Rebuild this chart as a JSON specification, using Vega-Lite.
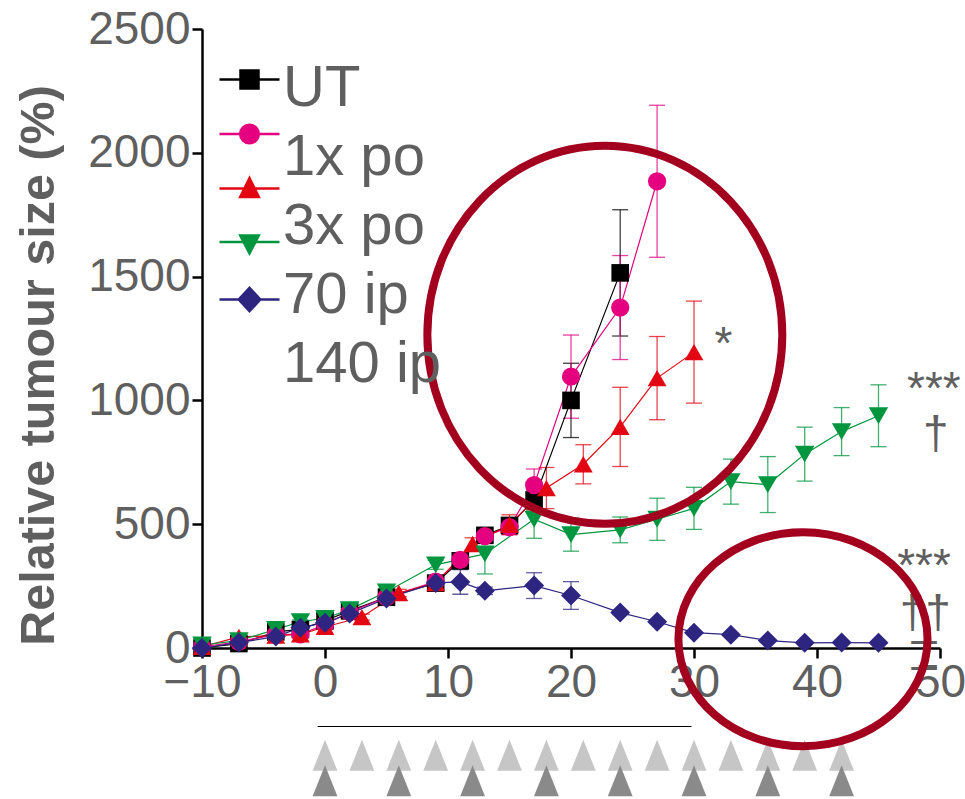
{
  "$schema": "https://vega.github.io/schema/vega-lite/v6.json",
  "width": 738,
  "height": 619,
  "autosize": {"type": "none"},
  "padding": {"left": 202, "top": 29, "right": 25, "bottom": 151},
  "background": "white",
  "config": {
    "view": {"stroke": null},
    "axis": {
      "grid": false,
      "domainColor": "#000000",
      "domainWidth": 2.5,
      "tickColor": "#000000",
      "tickWidth": 2.5,
      "tickSize": 10,
      "labelFont": "Liberation Sans",
      "labelFontSize": 46,
      "labelColor": "#5f5f5f",
      "labelPadding": 2,
      "titleFont": "Liberation Sans",
      "titleColor": "#5f5f5f"
    }
  },
  "datasets": {
    "main": [
      {"series": "UT", "day": -10, "value": 0, "sem": 0},
      {"series": "UT", "day": -7, "value": 18, "sem": 5},
      {"series": "UT", "day": -4, "value": 65, "sem": 8},
      {"series": "UT", "day": -2, "value": 75, "sem": 8},
      {"series": "UT", "day": 0, "value": 110, "sem": 10},
      {"series": "UT", "day": 2, "value": 150, "sem": 12},
      {"series": "UT", "day": 5, "value": 205, "sem": 15},
      {"series": "UT", "day": 9, "value": 262, "sem": 18},
      {"series": "UT", "day": 11, "value": 352, "sem": 20},
      {"series": "UT", "day": 13, "value": 455, "sem": 30},
      {"series": "UT", "day": 15, "value": 495, "sem": 30},
      {"series": "UT", "day": 17, "value": 598, "sem": 40},
      {"series": "UT", "day": 20, "value": 1000, "sem": 150},
      {"series": "UT", "day": 24, "value": 1515, "sem": 255},
      {"series": "1x po", "day": -10, "value": 5, "sem": 0},
      {"series": "1x po", "day": -7, "value": 25, "sem": 5},
      {"series": "1x po", "day": -4, "value": 55, "sem": 8},
      {"series": "1x po", "day": -2, "value": 55, "sem": 8},
      {"series": "1x po", "day": 0, "value": 95, "sem": 10},
      {"series": "1x po", "day": 2, "value": 145, "sem": 12},
      {"series": "1x po", "day": 5, "value": 205, "sem": 15},
      {"series": "1x po", "day": 9, "value": 268, "sem": 18},
      {"series": "1x po", "day": 11, "value": 356, "sem": 20},
      {"series": "1x po", "day": 13, "value": 452, "sem": 25},
      {"series": "1x po", "day": 15, "value": 488, "sem": 30},
      {"series": "1x po", "day": 17, "value": 658, "sem": 65},
      {"series": "1x po", "day": 20, "value": 1096, "sem": 168},
      {"series": "1x po", "day": 24, "value": 1375, "sem": 210},
      {"series": "1x po", "day": 27, "value": 1885, "sem": 307},
      {"series": "3x po", "day": -10, "value": 5, "sem": 0},
      {"series": "3x po", "day": -7, "value": 45, "sem": 5},
      {"series": "3x po", "day": -4, "value": 50, "sem": 8},
      {"series": "3x po", "day": -2, "value": 55, "sem": 8},
      {"series": "3x po", "day": 0, "value": 85, "sem": 10},
      {"series": "3x po", "day": 3, "value": 125, "sem": 12},
      {"series": "3x po", "day": 6, "value": 222, "sem": 15},
      {"series": "3x po", "day": 9, "value": 262, "sem": 18},
      {"series": "3x po", "day": 12, "value": 420, "sem": 25},
      {"series": "3x po", "day": 15, "value": 498, "sem": 40},
      {"series": "3x po", "day": 18, "value": 646, "sem": 83},
      {"series": "3x po", "day": 21, "value": 742, "sem": 79},
      {"series": "3x po", "day": 24, "value": 893, "sem": 160},
      {"series": "3x po", "day": 27, "value": 1090, "sem": 168},
      {"series": "3x po", "day": 30, "value": 1195, "sem": 206},
      {"series": "70 ip", "day": -10, "value": 12, "sem": 0},
      {"series": "70 ip", "day": -7, "value": 30, "sem": 5},
      {"series": "70 ip", "day": -4, "value": 75, "sem": 8},
      {"series": "70 ip", "day": -2, "value": 106, "sem": 8},
      {"series": "70 ip", "day": 0, "value": 120, "sem": 10},
      {"series": "70 ip", "day": 2, "value": 155, "sem": 12},
      {"series": "70 ip", "day": 5, "value": 227, "sem": 15},
      {"series": "70 ip", "day": 9, "value": 336, "sem": 18},
      {"series": "70 ip", "day": 13, "value": 380, "sem": 81},
      {"series": "70 ip", "day": 17, "value": 520, "sem": 77},
      {"series": "70 ip", "day": 20, "value": 458, "sem": 67},
      {"series": "70 ip", "day": 24, "value": 477, "sem": 52},
      {"series": "70 ip", "day": 27, "value": 520, "sem": 85},
      {"series": "70 ip", "day": 30, "value": 564, "sem": 85},
      {"series": "70 ip", "day": 33, "value": 672, "sem": 91},
      {"series": "70 ip", "day": 36, "value": 660, "sem": 113},
      {"series": "70 ip", "day": 39, "value": 783, "sem": 109},
      {"series": "70 ip", "day": 42, "value": 874, "sem": 97},
      {"series": "70 ip", "day": 45, "value": 938, "sem": 125},
      {"series": "140 ip", "day": -10, "value": 0, "sem": 0},
      {"series": "140 ip", "day": -7, "value": 22, "sem": 4},
      {"series": "140 ip", "day": -4, "value": 46, "sem": 5},
      {"series": "140 ip", "day": -2, "value": 82, "sem": 6},
      {"series": "140 ip", "day": 0, "value": 102, "sem": 8},
      {"series": "140 ip", "day": 2, "value": 139, "sem": 8},
      {"series": "140 ip", "day": 5, "value": 200, "sem": 10},
      {"series": "140 ip", "day": 9, "value": 263, "sem": 12},
      {"series": "140 ip", "day": 11, "value": 267, "sem": 50},
      {"series": "140 ip", "day": 13, "value": 231, "sem": 15},
      {"series": "140 ip", "day": 17, "value": 252, "sem": 52},
      {"series": "140 ip", "day": 20, "value": 212, "sem": 56},
      {"series": "140 ip", "day": 24, "value": 143, "sem": 8},
      {"series": "140 ip", "day": 27, "value": 106, "sem": 6},
      {"series": "140 ip", "day": 30, "value": 62, "sem": 5},
      {"series": "140 ip", "day": 33, "value": 54, "sem": 5},
      {"series": "140 ip", "day": 36, "value": 30, "sem": 4},
      {"series": "140 ip", "day": 39, "value": 21, "sem": 3},
      {"series": "140 ip", "day": 42, "value": 22, "sem": 3},
      {"series": "140 ip", "day": 45, "value": 21, "sem": 3}
    ],
    "dosing": [
      {"dose": "light", "day": 0, "value": -433},
      {"dose": "light", "day": 3, "value": -433},
      {"dose": "light", "day": 6, "value": -433},
      {"dose": "light", "day": 9, "value": -433},
      {"dose": "light", "day": 12, "value": -433},
      {"dose": "light", "day": 15, "value": -433},
      {"dose": "light", "day": 18, "value": -433},
      {"dose": "light", "day": 21, "value": -433},
      {"dose": "light", "day": 24, "value": -433},
      {"dose": "light", "day": 27, "value": -433},
      {"dose": "light", "day": 30, "value": -433},
      {"dose": "light", "day": 33, "value": -433},
      {"dose": "light", "day": 36, "value": -433},
      {"dose": "light", "day": 39, "value": -433},
      {"dose": "light", "day": 42, "value": -433},
      {"dose": "dark", "day": 0, "value": -536},
      {"dose": "dark", "day": 6, "value": -536},
      {"dose": "dark", "day": 12, "value": -536},
      {"dose": "dark", "day": 18, "value": -536},
      {"dose": "dark", "day": 24, "value": -536},
      {"dose": "dark", "day": 30, "value": -536},
      {"dose": "dark", "day": 36, "value": -536},
      {"dose": "dark", "day": 42, "value": -536}
    ],
    "bar": [
      {"day": -0.6, "dayEnd": 29.8, "value": -317}
    ],
    "notes": [
      {"day": 32.4, "value": 1169, "label": "*"},
      {"day": 49.5, "value": 987, "label": "***"},
      {"day": 49.66, "value": 805, "label": "†"},
      {"day": 48.7, "value": 272, "label": "***"},
      {"day": 48.8, "value": 82, "label": "††"},
      {"day": 48.7, "value": -25, "label": "–"},
      {"day": 48.7, "value": -130, "label": "–"}
    ],
    "rings": [
      {"ring": "big", "day": 22.75, "value": 1265},
      {"ring": "small", "day": 38.86, "value": 35.5}
    ]
  },
  "encoding": {
    "x": {
      "field": "day",
      "type": "quantitative",
      "scale": {"domain": [-10, 50], "nice": false, "zero": false},
      "axis": {"values": [-10, 0, 10, 20, 30, 40, 50], "title": null, "labelFlush": false, "labelOverlap": false, "labelBound": false}
    },
    "y": {
      "field": "value",
      "type": "quantitative",
      "scale": {"domain": [0, 2500], "nice": false, "zero": false},
      "axis": {
        "values": [0, 500, 1000, 1500, 2000, 2500],
        "format": "d",
        "title": "Relative tumour size (%)",
        "titleFontSize": 48.5,
        "titleFontWeight": "bold",
        "titlePadding": 24,
        "titleY": 336,
        "labelOverlap": false,
        "labelFlush": false
      }
    }
  },
  "layer": [
    {
      "data": {"name": "main"},
      "mark": {"type": "errorbar", "ticks": true, "size": 16, "thickness": 1.3, "opacity": 0.75},
      "encoding": {
        "yError": {"field": "sem"},
        "color": {"field": "series", "type": "nominal", "scale": {"domain": ["UT", "1x po", "3x po", "70 ip", "140 ip"], "range": ["#000000", "#e4007f", "#e30613", "#00963f", "#2e2580"]}, "legend": null}
      }
    },
    {
      "data": {"name": "main"},
      "mark": {"type": "line", "strokeWidth": 1.2},
      "encoding": {
        "color": {"field": "series", "type": "nominal", "scale": {"domain": ["UT", "1x po", "3x po", "70 ip", "140 ip"], "range": ["#000000", "#e4007f", "#e30613", "#00963f", "#2e2580"]}, "legend": null}
      }
    },
    {
      "data": {"name": "main"},
      "mark": {"type": "point", "filled": true, "opacity": 1, "strokeWidth": 0},
      "encoding": {
        "color": {"field": "series", "type": "nominal", "scale": {"domain": ["UT", "1x po", "3x po", "70 ip", "140 ip"], "range": ["#000000", "#e4007f", "#e30613", "#00963f", "#2e2580"]}, "legend": null},
        "shape": {"field": "series", "type": "nominal", "scale": {"domain": ["UT", "1x po", "3x po", "70 ip", "140 ip"], "range": ["square", "circle", "triangle-up", "triangle-down", "diamond"]}, "legend": null},
        "size": {"field": "series", "type": "ordinal", "scale": {"domain": ["UT", "1x po", "3x po", "70 ip", "140 ip"], "range": [310, 400, 430, 430, 480]}, "legend": null}
      }
    },
    {
      "data": {"name": "bar"},
      "mark": {"type": "rule", "color": "#000000", "strokeWidth": 1.2},
      "encoding": {"x2": {"field": "dayEnd"}}
    },
    {
      "data": {"name": "dosing"},
      "transform": [{"filter": "datum.dose === 'light'"}],
      "mark": {"type": "point", "shape": "M0,-1L0.8,1L-0.8,1Z", "size": 961, "filled": true, "color": "#c6c6c6", "opacity": 1, "strokeWidth": 0}
    },
    {
      "data": {"name": "dosing"},
      "transform": [{"filter": "datum.dose === 'dark'"}],
      "mark": {"type": "point", "shape": "M0,-1L0.8,1L-0.8,1Z", "size": 961, "filled": true, "color": "#8a8a8a", "opacity": 1, "strokeWidth": 0}
    },
    {
      "data": {"name": "notes"},
      "mark": {"type": "text", "font": "Liberation Sans", "fontSize": 46, "color": "#5f5f5f", "baseline": "alphabetic", "align": "center"},
      "encoding": {"text": {"field": "label"}}
    },
    {
      "data": {"name": "rings"},
      "transform": [{"filter": "datum.ring === 'big'"}],
      "mark": {"type": "point", "shape": "M-0.939,0A0.939,1,0,1,0,0.939,0A0.939,1,0,1,0,-0.939,0Z", "size": 142884, "filled": false, "stroke": "#a3001f", "strokeWidth": 8, "opacity": 1}
    },
    {
      "data": {"name": "rings"},
      "transform": [{"filter": "datum.ring === 'small'"}],
      "mark": {"type": "point", "shape": "M-1.164,0A1.164,1,0,1,0,1.164,0A1.164,1,0,1,0,-1.164,0Z", "size": 45796, "filled": false, "stroke": "#a3001f", "strokeWidth": 8, "opacity": 1}
    },
    {
      "data": {"values": [{"lg": "s1"}]},
      "transform": [{"filter": "false"}],
      "mark": {"type": "point", "filled": true, "opacity": 1, "size": 900},
      "encoding": {
        "shape": {"field": "lg", "type": "nominal", "scale": {"domain": ["s1", "s2", "s3", "s4", "s5"], "range": [
          "M-2,0H2M-0.6,-0.6H0.6V0.6H-0.6Z",
          "M-2,0H2M0.62,0A0.62,0.62,0,1,1,-0.62,0A0.62,0.62,0,1,1,0.62,0Z",
          "M-2,0H2M0,-0.7L0.62,0.56H-0.62Z",
          "M-2,0H2M-0.62,-0.44H0.62L0,0.76Z",
          "M-2,0H2M0,-0.78L0.72,0L0,0.78L-0.72,0Z"
        ]}, "legend": {"orient": "none", "legendX": 31, "legendY": 34, "title": null, "labelExpr": "''", "labelFontSize": 1, "symbolSize": 900, "symbolStrokeWidth": 2.5, "rowPadding": 23.5, "padding": 0, "symbolOpacity": 1}},
        "fill": {"field": "lg", "type": "nominal", "scale": {"domain": ["s1", "s2", "s3", "s4", "s5"], "range": ["#000000", "#e4007f", "#e30613", "#00963f", "#2e2580"]}, "legend": {"orient": "none", "legendX": 31, "legendY": 34, "title": null, "labelExpr": "''", "labelFontSize": 1, "symbolSize": 900, "symbolStrokeWidth": 2.5, "rowPadding": 23.5, "padding": 0, "symbolOpacity": 1}},
        "stroke": {"field": "lg", "type": "nominal", "scale": {"domain": ["s1", "s2", "s3", "s4", "s5"], "range": ["#000000", "#e4007f", "#e30613", "#00963f", "#2e2580"]}, "legend": {"orient": "none", "legendX": 31, "legendY": 34, "title": null, "labelExpr": "''", "labelFontSize": 1, "symbolSize": 900, "symbolStrokeWidth": 2.5, "rowPadding": 23.5, "padding": 0, "symbolOpacity": 1}}
      }
    },
    {
      "data": {"values": [{"lbl": "UT"}]},
      "transform": [{"filter": "false"}],
      "mark": {"type": "point", "opacity": 1},
      "encoding": {
        "shape": {"field": "lbl", "type": "nominal", "scale": {"domain": ["UT", "1x po", "3x po", "70 ip", "140 ip"]}, "legend": {"orient": "none", "legendX": 23, "legendY": 31, "title": null, "labelFontSize": 58, "labelFont": "Liberation Sans", "labelColor": "#5f5f5f", "symbolOpacity": 0, "symbolSize": 1, "symbolStrokeWidth": 0, "labelOffset": 0, "rowPadding": 11, "padding": 0, "labelLimit": 400}}
      }
    }
  ],
  "resolve": {
    "scale": {"color": "independent", "shape": "independent", "fill": "independent", "stroke": "independent", "size": "independent"},
    "legend": {"color": "independent", "shape": "independent", "fill": "independent", "stroke": "independent", "size": "independent"}
  }
}
